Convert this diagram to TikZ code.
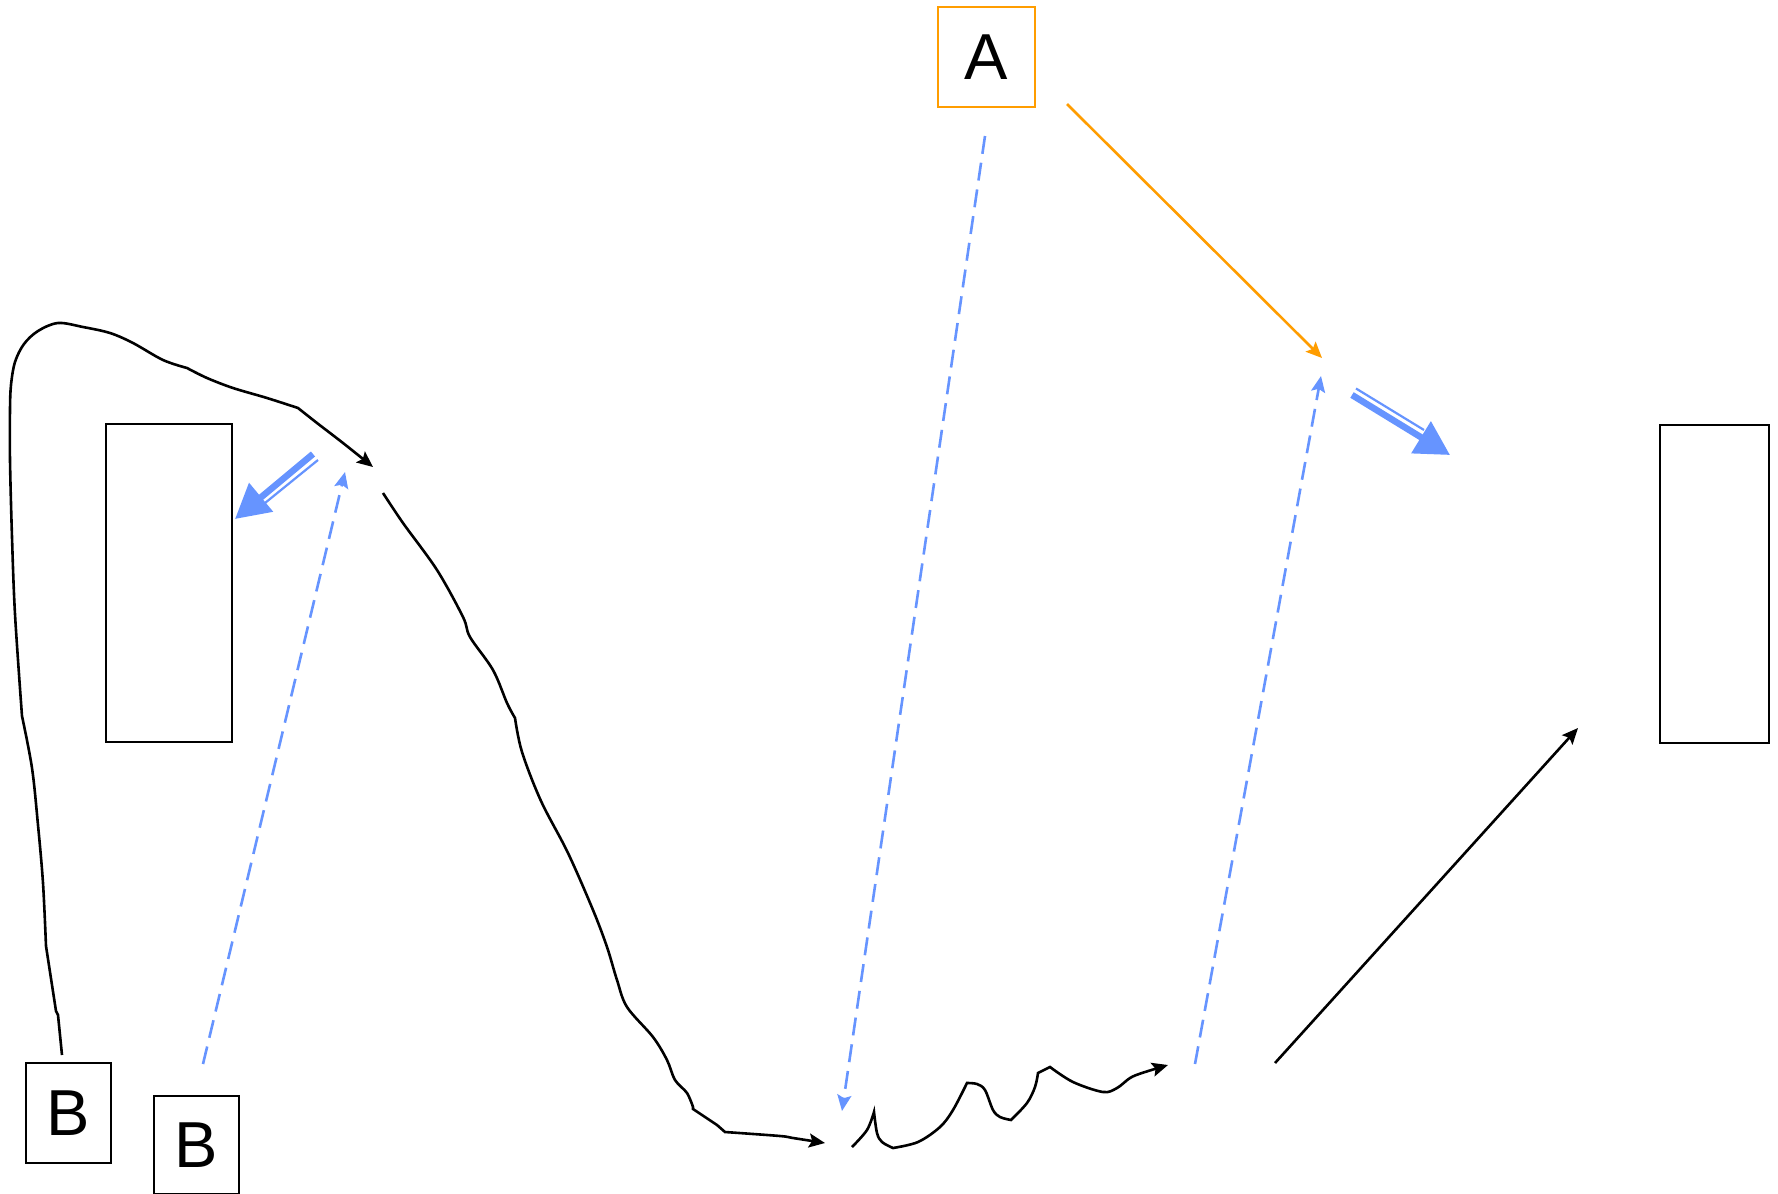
\documentclass[tikz,border=0pt]{standalone}
\usepackage{fontspec}
\setmainfont{Liberation Sans}
\usetikzlibrary{arrows.meta}
\definecolor{myblue}{RGB}{102,148,255}
\definecolor{myorange}{RGB}{255,157,0}
\begin{document}
\begin{tikzpicture}[x=1pt,y=-1pt,
  box/.style={draw=black,line width=2.4pt,inner sep=0pt,font=\fontsize{65}{78}\selectfont},
  small tip/.style={-{Stealth[length=16pt,width=14pt,inset=3pt]}},
  conn/.style={line width=2.6pt,small tip},
  dashconn/.style={line width=2.6pt,myblue,dash pattern=on 18pt off 9pt,small tip},
  thickstrand/.style={myblue,line width=6.5pt,-{Triangle[length=34pt,width=36pt]}},
  thinstrand/.style={myblue,line width=2.2pt},
  sm/.style={smooth,tension=0.55}
]
\fill[white] (0,0) rectangle (1778,1194);
\useasboundingbox (0,0) rectangle (1778,1194);

% nodes
\node[box,draw=myorange,minimum width=97pt,minimum height=100pt] (A) at (986.5,57) {A};
\node[box,minimum width=85pt,minimum height=100pt] (B1) at (68.5,1113) {B};
\node[box,minimum width=85pt,minimum height=98pt] (B2) at (196.5,1145) {B};
\node[box,minimum width=126pt,minimum height=318pt] (L) at (169,583) {};
\node[box,minimum width=109pt,minimum height=318pt] (R) at (1714.5,584) {};

% free connector ends
\coordinate (c1s) at (62,1055);
\coordinate (c1e) at (373,467);
\coordinate (c2s) at (383,493);
\coordinate (c2e) at (825,1143);
\coordinate (c3s) at (852,1147);
\coordinate (c3e) at (1168,1065);
\coordinate (os) at (1067,104);
\coordinate (oe) at (1322,358);
\coordinate (d1s) at (985,136);
\coordinate (d1e) at (842,1111);
\coordinate (d2s) at (1195,1064);
\coordinate (d2e) at (1321,376);
\coordinate (d3s) at (203,1064);
\coordinate (d3e) at (345,472);
\coordinate (ks) at (1275,1063);
\coordinate (ke) at (1578,728);
\coordinate (b1s) at (313,454);
\coordinate (b1e) at (235,519);
\coordinate (b1ts) at (318,460);
\coordinate (b1te) at (265,503);
\coordinate (b2s) at (1352,395);
\coordinate (b2e) at (1450,455);
\coordinate (b2ts) at (1356,388.5);
\coordinate (b2te) at (1424,430);

% straight connectors
\draw[conn,myorange] (os) -- (oe);
\draw[dashconn] (d1s) -- (d1e);
\draw[dashconn] (d2s) -- (d2e);
\draw[dashconn] (d3s) -- (d3e);
\draw[conn] (ks) -- (ke);

% double blue arrows
\draw[thinstrand] (b1ts) -- (b1te);
\draw[thickstrand] (b1s) -- (b1e);
\draw[thinstrand] (b2ts) -- (b2te);
\draw[thickstrand] (b2s) -- (b2e);

% curve 1
\draw[conn] (c1s) -- (58,1015) -- (56,1011) -- (46,946)
  -- plot[sm] coordinates {(46,946) (43,883) (38,825) (32,768) (22,716)}
  -- plot[sm] coordinates {(22,716) (15,614) (12,537) (10,460) (10,410) (11,385) (15,362) (24,344) (38,331) (58,323) (83,327) (110,333) (133,343) (163,360) (187,368)}
  -- plot[sm] coordinates {(187,368) (207,378) (233,388) (267,398) (298,408)}
  -- plot[sm] coordinates {(298,408) (317,423) (343,443) (c1e)};

% curve 2
\draw[conn] plot[sm] coordinates {(c2s) (403,523) (437,570) (463,617) (470,637) (493,670) (507,703) (515,718)}
  -- plot[sm] coordinates {(515,718) (522,752) (541,801) (568,853) (593,910) (607,947) (617,980) (627,1007) (653,1037) (667,1060) (675,1080) (687,1093) (693,1107)}
  -- (693,1109) -- (717,1125) -- (725,1132)
  -- plot[sm] coordinates {(725,1132) (780,1136) (793,1138) (c2e)};

% curve 3
\draw[conn] plot[sm] coordinates {(c3s) (867,1130) (874,1112)}
  -- plot[sm] coordinates {(874,1112) (877,1133) (882,1142) (893,1148)}
  -- plot[sm] coordinates {(893,1148) (918,1142) (940,1127) (953,1110) (967,1083)}
  -- plot[sm] coordinates {(967,1083) (977,1084) (985,1090) (993,1110) (1000,1117) (1011,1120)}
  -- plot[sm] coordinates {(1011,1120) (1027,1103) (1035,1087) (1038,1073)}
  -- (1050,1067)
  -- plot[sm] coordinates {(1050,1067) (1073,1082) (1103,1092) (1117,1088) (1130,1078) (1142,1073) (c3e)};
\end{tikzpicture}
\end{document}
